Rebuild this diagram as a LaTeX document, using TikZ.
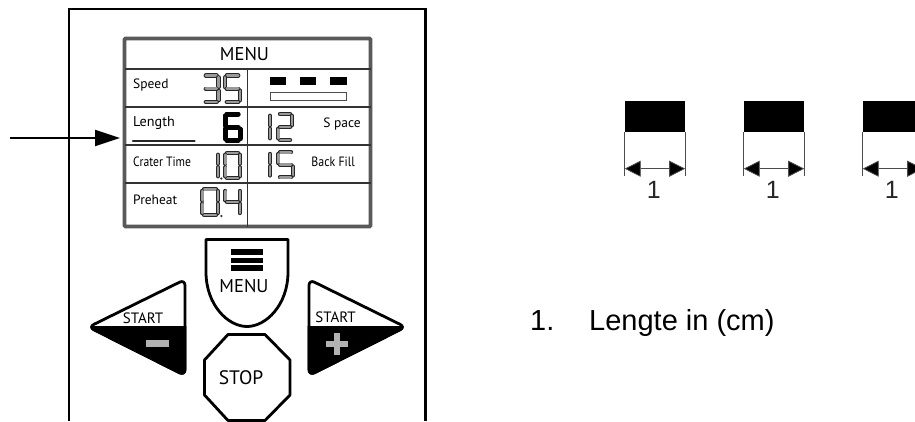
\documentclass[tikz,border=0pt]{standalone}
\usepackage{fontspec}
\setmainfont{Liberation Sans}
\newfontfamily\panelfont{PT Sans}
\usetikzlibrary{arrows.meta}
\tikzset{
  paneltext/.style={font=\panelfont\fontsize{#1}{#1}\selectfont,inner sep=0pt},
  celllabel/.style={paneltext=13.5,anchor=west},
  btn/.style={draw=black,line width=2.8pt,line join=round,fill=white},
  grid/.style={draw=black!80,line width=1.1pt},
  dimline/.style={draw=black!70,line width=0.8pt},
  dimarrow/.style={draw=black!70,line width=0.8pt,{Triangle[length=16pt,width=16pt,fill=black]}-{Triangle[length=16pt,width=16pt,fill=black]}},
}
\newcommand{\sevenseg}[8]{%
  \foreach \s in {#5}{%
    \ifcase\s\relax
      \def\pa{(#1+1.8,#2)}\def\pb{(#1+#3-1.8,#2)}%
    \or \def\pa{(#1+#3,#2+1.8)}\def\pb{(#1+#3,#2+#4/2-1.8)}%
    \or \def\pa{(#1+#3,#2+#4/2+1.8)}\def\pb{(#1+#3,#2+#4-1.8)}%
    \or \def\pa{(#1+1.8,#2+#4)}\def\pb{(#1+#3-1.8,#2+#4)}%
    \or \def\pa{(#1,#2+#4/2+1.8)}\def\pb{(#1,#2+#4-1.8)}%
    \or \def\pa{(#1,#2+1.8)}\def\pb{(#1,#2+#4/2-1.8)}%
    \or \def\pa{(#1+1.8,#2+#4/2)}\def\pb{(#1+#3-1.8,#2+#4/2)}%
    \fi
    \draw[line cap=round,line width=#8pt,draw=#6] \pa -- \pb;
    \draw[line cap=round,line width=#8pt-1.8pt,draw=#7] \pa -- \pb;
  }%
}
\newcommand{\lcd}[5]{\sevenseg{#1}{#2}{#3}{#4}{#5}{black!85}{black!40}{4.4}}
\begin{document}
\begin{tikzpicture}[x=1pt,y=-1pt]
\useasboundingbox (0,0) rectangle (915,421);
\coordinate (cbl) at (69,421); \coordinate (ctl) at (69,9);
\coordinate (ctr) at (425.7,9); \coordinate (cbr) at (425.7,421);
\draw[line width=2.6pt,draw=black] (cbl) -- (ctl) -- (ctr) -- (cbr);
\draw[draw=black!65,line width=3.6pt,rounded corners=1pt] (124.5,38.5) rectangle (370.5,226.5);
\foreach \yy in {69,107,145,183}{\draw[grid] (124.5,\yy) -- (370.5,\yy);}
\draw[grid] (247.3,69) -- (247.3,226.5);
\node[paneltext=18.5] (tmenu) at (244.5,54) {MENU};
\node[celllabel] (tspeed) at (133,85.5) {Speed};
\node[celllabel,font=\panelfont\fontsize{14.2}{14.2}\selectfont] (tlength) at (133,123.5) {Length};
\node[celllabel] (tcrater) at (133,161.5) {\scalebox{0.86}[1]{Crater Time}};
\node[celllabel] (tpre) at (133,199.5) {Preheat};
\node[paneltext=13.5,anchor=east] (tspace) at (361,124) {S pace};
\node[paneltext=13.5,anchor=east] (tback) at (355,161.5) {\scalebox{0.88}[1]{Back Fill}};
\lcd{204}{75.5}{14.5}{26.5}{0,1,2,3,6}
\lcd{225}{75.5}{15}{26.5}{0,2,3,5,6}
\sevenseg{225}{114}{15}{26.5}{0,2,3,4,5,6}{black}{black}{5}
\lcd{270}{114}{0}{26}{1,2}
\lcd{278.2}{114}{13.6}{26}{0,1,3,4,6}
\lcd{218}{153}{0}{25}{1,2}
\lcd{225.2}{153}{14.6}{25}{0,1,2,3,4,5}
\node[circle,fill=black!80,inner sep=0pt,minimum size=2.5pt] (dota) at (221.3,178.5) {};
\lcd{270}{152.2}{0}{25}{1,2}
\lcd{278.2}{152.2}{14.6}{25}{0,2,3,5,6}
\lcd{202.2}{189.2}{15.6}{25.6}{0,1,2,3,4,5}
\lcd{225.2}{189.2}{14.6}{25.6}{1,2,5,6}
\node[circle,fill=black!80,inner sep=0pt,minimum size=2.5pt] (dotb) at (221.3,216) {};
\fill (270,77.3) rectangle (286,85);
\fill (300,77.3) rectangle (316,85);
\fill (330,77.3) rectangle (346.7,85);
\draw[draw=black!70,line width=0.8pt] (270,92.5) rectangle (346.7,100);
\draw[line width=2.6pt,line cap=round,draw=black!85] (133,141) -- (194.5,141);
\draw[btn] (206,239.5) -- (288,239.5) -- (288,272) .. controls (288,305) and (266,326.5) .. (247,326.5) .. controls (228,326.5) and (206,305) .. (206,272) -- cycle;
\fill (231,249) rectangle (263,254.8);
\fill (231,257.5) rectangle (263,263);
\fill (231,265) rectangle (263,270.5);
\node[paneltext=18.5] (tmenub) at (244,286.5) {MENU};
\draw[btn,rounded corners=6pt] (185,279.5) -- (185,375.5) -- (88.5,327) -- cycle;
\begin{scope}
\clip (80,326.5) rectangle (190,385);
\fill[draw=black,line width=2.8pt,line join=round,rounded corners=6pt] (185,279.5) -- (185,375.5) -- (88.5,327) -- cycle;
\end{scope}
\node[paneltext=15] (tstartl) at (143,318) {START};
\fill[black!30] (146,340) rectangle (169.3,346.7);
\draw[btn,rounded corners=6pt] (309,279.5) -- (309,375.5) -- (405.5,327) -- cycle;
\begin{scope}
\clip (300,326.5) rectangle (415,385);
\fill[draw=black,line width=2.8pt,line join=round,rounded corners=6pt] (309,279.5) -- (309,375.5) -- (405.5,327) -- cycle;
\end{scope}
\node[paneltext=15] (tstartr) at (335.5,317.5) {START};
\fill[black!30] (325.5,340.5) rectangle (348,346.5);
\fill[black!30] (333.7,332.5) rectangle (339.7,354.5);
\draw[btn] (228,334.5) -- (265,334.5) -- (290,360) -- (290,395) -- (265,420.5) -- (228,420.5) -- (204.5,395) -- (204.5,360) -- cycle;
\node[paneltext=19.5] (tstop) at (241,377.5) {STOP};
\coordinate (ps) at (10,138); \coordinate (pe) at (120,138);
\draw[line width=2pt,-{Triangle[length=25pt,width=16pt,fill=black]}] (ps) -- (pe);
\foreach \xa/\nm in {624.7/a,743.7/b,862.7/c}{
  \pgfmathsetmacro{\xb}{\xa+60.5}
  \pgfmathsetmacro{\xc}{\xa+29}
  \fill (\xa,101.3) rectangle (\xb,131.7);
  \coordinate (l\nm t) at (\xa,131.7); \coordinate (l\nm b) at (\xa,176);
  \coordinate (r\nm t) at (\xb,131.7); \coordinate (r\nm b) at (\xb,176);
  \coordinate (l\nm m) at (\xa,168.7); \coordinate (r\nm m) at (\xb,168.7);
  \draw[dimline] (l\nm t) -- (l\nm b);
  \draw[dimline] (r\nm t) -- (r\nm b);
  \draw[dimarrow] (l\nm m) -- (r\nm m);
  \node[font=\fontsize{25}{25}\selectfont,inner sep=0pt,text=black!85] (n\nm) at (\xc,190) {1};
}
\node[font=\fontsize{29}{29}\selectfont,anchor=base west,inner sep=0pt] (tnum) at (530,330.7) {1.};
\node[font=\fontsize{29}{29}\selectfont,anchor=base west,inner sep=0pt] (tlen) at (589,330.7) {Lengte in (cm)};
\end{tikzpicture}
\end{document}
